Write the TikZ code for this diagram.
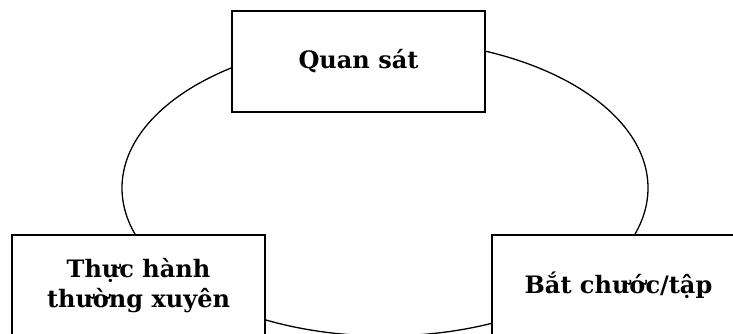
\documentclass[tikz,border=0pt]{standalone}
\usepackage{fontspec}
\setmainfont{DejaVu Serif}
\usetikzlibrary{shapes.geometric, positioning}
\tikzstyle{every step box} = []
\tikzstyle{stepbox} = [rectangle, draw, black, fill=white, line width=1.3pt,
                      minimum width=253pt, minimum height=101pt, align=center,
                      font=\fontsize{24}{29.5}\selectfont\bfseries, every step box]
\tikzstyle{cycle} = [ellipse, draw, black, line width=1.3pt, inner sep=0pt]

\begin{document}
\begin{tikzpicture}[x=1pt,y=1pt]
  \useasboundingbox (0,0) rectangle (733,-333);
  \clip (0,0) rectangle (733,-333);
  %Cycle
  \node[cycle, minimum width=526pt, minimum height=296pt] (loop) at (385,-188) {};
  %Steps
  \node[stepbox] (observe) at (358.5,-61.5) {Quan sát};
  \node[stepbox] (practice) at (138.5,-285.5) {Thực hành\\thường xuyên};
  \node[stepbox] (imitate) at (618.5,-285.5) {Bắt chước/tập};
\end{tikzpicture}
\end{document}
